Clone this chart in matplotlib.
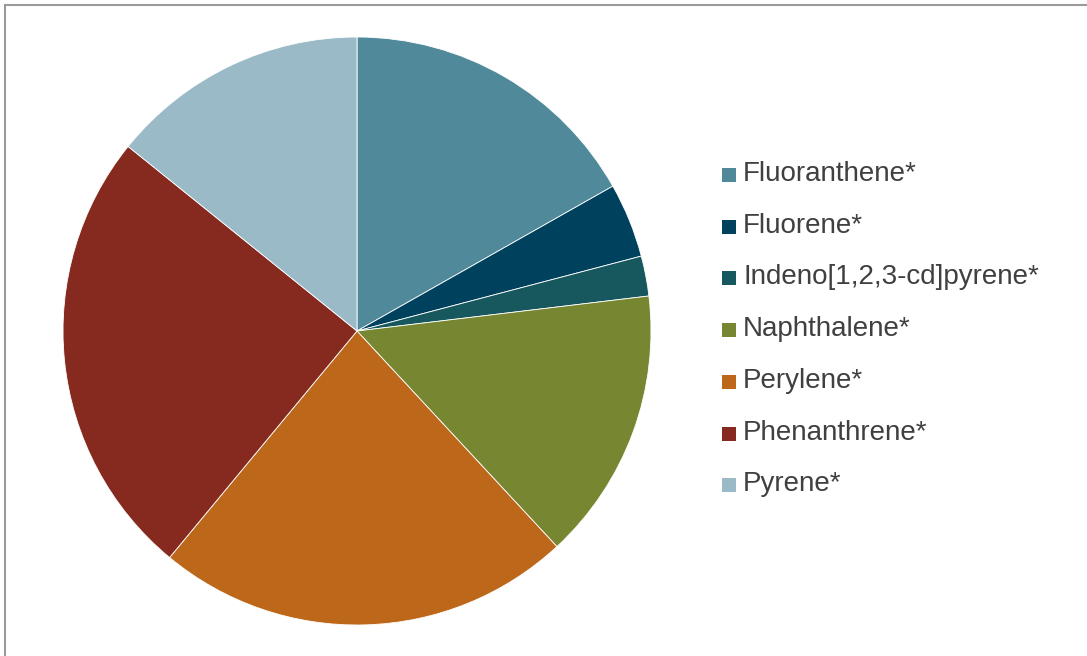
import numpy as np
import matplotlib.pyplot as plt
from matplotlib.patches import Rectangle

# share of each compound (percent)
compounds = ['Fluoranthene*', 'Fluorene*', 'Indeno[1,2,3-cd]pyrene*', 'Naphthalene*',
             'Perylene*', 'Phenanthrene*', 'Pyrene*']
shares = [16.8, 4.1, 2.2, 15.0, 22.9, 24.8, 14.2]
colors = ['#508A9A', '#00425E', '#17585F', '#778630', '#BD671A', '#862A1F', '#9BBAC7']

W, H = 1087, 656
fig = plt.figure(figsize=(W / 100, H / 100), dpi=100)
fig.patch.set_facecolor('white')

# outer frame
fig.add_artist(Rectangle((5 / W, -0.01), 1.02, (H - 5) / H + 0.01, transform=fig.transFigure,
                         fill=False, edgecolor='#9a9a9a', linewidth=1.5))

cx, cy, r = 357, 331, 294
ax = fig.add_axes([(cx - r) / W, (H - cy - r) / H, 2 * r / W, 2 * r / H])
ax.pie(shares, colors=colors, startangle=90, counterclock=False,
       wedgeprops=dict(edgecolor='white', linewidth=0.6))
ax.set_aspect('equal')
ax.set_xlim(-1, 1)
ax.set_ylim(-1, 1)
ax.axis('off')

# legend drawn by hand in pixel space
y0, step = 175, 51.7
for i, (name, c) in enumerate(zip(compounds, colors)):
    y = y0 + i * step
    fig.add_artist(Rectangle((722 / W, (H - y - 7) / H), 14 / W, 14 / H,
                             transform=fig.transFigure, facecolor=c, edgecolor='none'))
    fig.text(743 / W, (H - y + 1) / H, name, fontsize=20, color='#404040',
             family='Liberation Sans', va='center', ha='left')

fig.savefig('out.png', dpi=100)
